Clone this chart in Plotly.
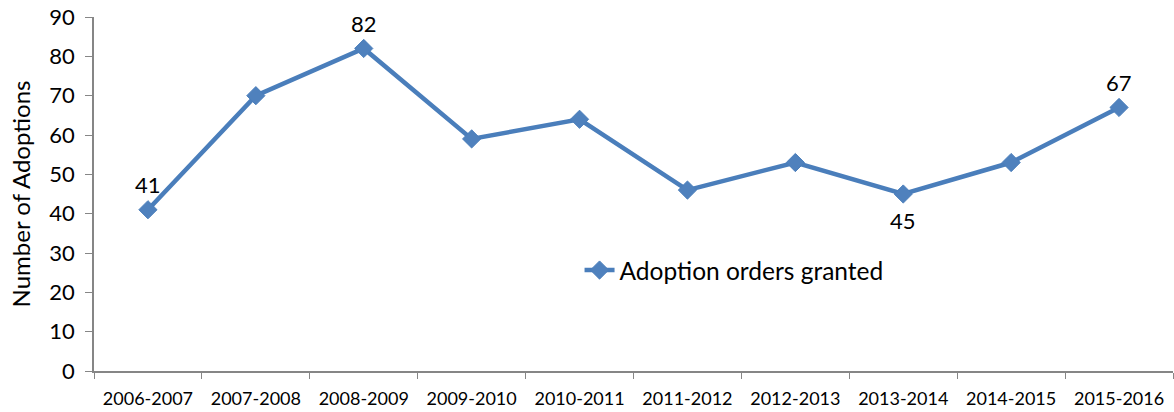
import plotly.graph_objects as go

categories = ["2006-2007", "2007-2008", "2008-2009", "2009-2010", "2010-2011",
              "2011-2012", "2012-2013", "2013-2014", "2014-2015", "2015-2016"]
adoptions = [41, 70, 82, 59, 64, 46, 53, 45, 53, 67]
label_text = ["41", "", "82", "", "", "", "", "45", "", "67"]
label_side = ["above", "", "above", "", "", "", "", "below", "", "above"]
y_ticks = [0, 10, 20, 30, 40, 50, 60, 70, 80, 90]

FONT = "Lato, Open Sans, sans-serif"
AXIS_COLOR = "#868686"

fig = go.Figure()
fig.add_trace(go.Scatter(
    x=categories, y=adoptions, name="Adoption orders granted",
    mode="lines+markers",
    line=dict(color="#4A7EBB", width=4.5),
    marker=dict(symbol="diamond", size=14, color="#4F81BD",
                line=dict(color="#4A7EBB", width=1)),
    cliponaxis=False,
))

for cat, val, txt, side in zip(categories, adoptions, label_text, label_side):
    if txt:
        fig.add_annotation(x=cat, y=val, text=txt, showarrow=False,
                           yshift=25 if side == "above" else -26,
                           font=dict(family=FONT, size=22, color="#000000"))

fig.update_layout(
    width=1174, height=412,
    margin=dict(l=94, r=1, t=17, b=41),
    paper_bgcolor="white", plot_bgcolor="white",
    font=dict(family=FONT, color="#000000"),
    showlegend=True,
    legend=dict(x=0.45, y=0.285, xanchor="left", yanchor="middle",
                bgcolor="rgba(0,0,0,0)", font=dict(family=FONT, size=24.5)),
    xaxis=dict(
        type="category", range=[-0.5, 9.5], tickson="boundaries", ticks="outside", ticklen=6,
        tickcolor=AXIS_COLOR, showline=True, linecolor=AXIS_COLOR, linewidth=1.5,
        showgrid=False, tickfont=dict(family=FONT, size=18), zeroline=False,
        ticklabelstandoff=11, automargin=False,
    ),
    yaxis=dict(
        range=[0, 90], tickvals=y_ticks, ticks="outside", ticklen=7,
        tickcolor=AXIS_COLOR, showline=True, linecolor=AXIS_COLOR, linewidth=1.5,
        showgrid=False, zeroline=False, tickfont=dict(family=FONT, size=22),
        ticklabelstandoff=6, automargin=False,
        title=dict(text="Number of Adoptions", font=dict(family=FONT, size=24), standoff=12),
    ),
)

fig.write_html("out.html", config={"displayModeBar": False},
               post_script="document.body.style.margin='0';")
